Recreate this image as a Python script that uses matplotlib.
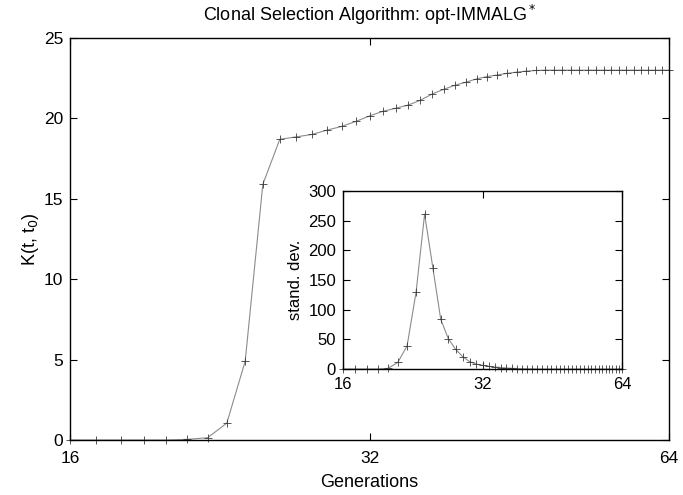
import matplotlib
matplotlib.use("Agg")
import matplotlib.pyplot as plt
import numpy as np

plt.rcParams['font.family'] = ['Liberation Sans', 'DejaVu Sans']

# generations 16..64 (log2 x axis)
gens = list(range(16, 65))

# K(t, t0)
k_vals = [0, 0, 0, 0, 0, 0.04, 0.14, 1.05, 4.9, 15.9,
          18.7, 18.85, 19.0, 19.27, 19.5, 19.81, 20.15, 20.44, 20.63, 20.83,
          21.13, 21.52, 21.81, 22.06, 22.25, 22.46, 22.6, 22.7, 22.8, 22.88,
          22.94, 22.98, 23.0, 23.0, 23.0, 23.0, 23.0, 23.0, 23.0, 23.0,
          23.0, 23.0, 23.0, 23.0, 23.0, 23.0, 23.0, 23.0, 23.0]

# standard deviation (inset)
sd_vals = [0, 0, 0, 0, 1, 11, 39, 129, 261, 171,
           84, 51, 33, 21, 12.4, 8.4, 6.2, 4.5, 3.5, 2.5,
           1.8, 1.2, 0.8, 0.5, 0.3, 0.2, 0.1, 0, 0, 0,
           0, 0, 0, 0, 0, 0, 0, 0, 0, 0,
           0, 0, 0, 0, 0, 0, 0, 0, 0]

x_ticks = [16, 32, 64]
line_col = '#8c8c8c'
mark_col = '#3a3a3a'

fig = plt.figure(figsize=(6.83, 4.95), dpi=100)
ax = fig.add_axes([70/683, 1-440/495, 599/683, 402/495])

def style(a, fs, pad_x):
    a.set_xscale('log', base=2)
    a.set_xlim(16, 64)
    a.set_xticks(x_ticks)
    a.set_xticklabels([str(t) for t in x_ticks])
    a.minorticks_off()
    a.tick_params(direction='in', top=True, right=True, length=5, width=0.8,
                  labelsize=fs, pad=5)
    a.tick_params(axis='x', pad=pad_x)
    for s in a.spines.values():
        s.set_linewidth(1.0)

ax.plot(gens, k_vals, color=line_col, lw=0.8, marker='+', ms=5.5, mew=0.6,
        mec=mark_col, clip_on=False)
style(ax, 12.5, 8)
ax.set_ylim(0, 25)
ax.set_yticks([0, 5, 10, 15, 20, 25])
ax.set_xlabel('Generations', fontsize=13, labelpad=6)
ax.set_ylabel('K(t, t$_0$)', fontsize=13, labelpad=2)
ax.set_title('Clonal Selection Algorithm: opt-IMMALG$^*$', fontsize=13, pad=12)

ins = fig.add_axes([343/683, 1-369/495, 279/683, 178/495])
ins.plot(gens, sd_vals, color=line_col, lw=0.8, marker='+', ms=5.5, mew=0.6,
         mec=mark_col, clip_on=False)
style(ins, 12, 6)
ins.set_ylim(0, 300)
ins.set_yticks([0, 50, 100, 150, 200, 250, 300])
ins.set_ylabel('stand. dev.', fontsize=12, labelpad=4)

fig.savefig('out.png', dpi=100)
